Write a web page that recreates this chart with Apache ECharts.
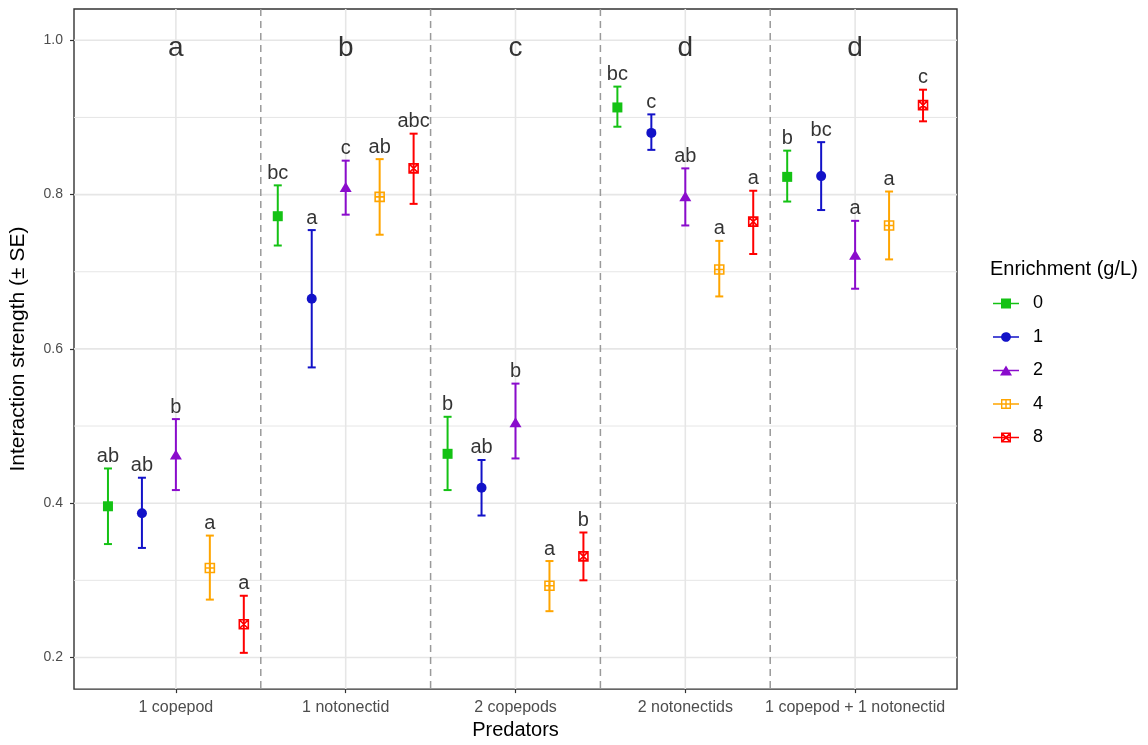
<!DOCTYPE html>
<html><head><meta charset="utf-8">
<script src="https://cdn.jsdelivr.net/npm/echarts@6/dist/echarts.min.js"></script>
<style>html,body{margin:0;padding:0;background:#fff}#c{width:1148px;height:745px}</style>
</head><body><div id="c"></div>
<script>
// ---------------- data ----------------
const categories = ['1 copepod', '1 notonectid', '2 copepods', '2 notonectids', '1 copepod + 1 notonectid'];
const levels = ['0', '1', '2', '4', '8'];
const groupLetters = ['a', 'b', 'c', 'd', 'd'];
const yMajorTicks = [0.2, 0.4, 0.6, 0.8, 1.0];
const yMinorTicks = [0.3, 0.5, 0.7, 0.9];

const mean0 = [0.396, 0.772, 0.464, 0.913, 0.823];
const upper0 = [0.445, 0.812, 0.512, 0.940, 0.857];
const lower0 = [0.347, 0.734, 0.417, 0.888, 0.791];
const letters0 = ['ab', 'bc', 'b', 'bc', 'b'];

const mean1 = [0.387, 0.665, 0.420, 0.880, 0.824];
const upper1 = [0.433, 0.754, 0.456, 0.904, 0.868];
const lower1 = [0.342, 0.576, 0.384, 0.858, 0.780];
const letters1 = ['ab', 'a', 'ab', 'c', 'bc'];

const mean2 = [0.463, 0.810, 0.505, 0.798, 0.722];
const upper2 = [0.509, 0.844, 0.555, 0.834, 0.766];
const lower2 = [0.417, 0.774, 0.458, 0.760, 0.678];
const letters2 = ['b', 'c', 'b', 'ab', 'a'];

const mean4 = [0.316, 0.797, 0.293, 0.703, 0.760];
const upper4 = [0.358, 0.846, 0.325, 0.740, 0.804];
const lower4 = [0.275, 0.748, 0.260, 0.668, 0.716];
const letters4 = ['a', 'ab', 'a', 'a', 'a'];

const mean8 = [0.243, 0.834, 0.331, 0.765, 0.916];
const upper8 = [0.280, 0.879, 0.362, 0.805, 0.936];
const lower8 = [0.206, 0.788, 0.300, 0.723, 0.895];
const letters8 = ['a', 'abc', 'b', 'a', 'c'];

const means = [mean0, mean1, mean2, mean4, mean8];
const uppers = [upper0, upper1, upper2, upper4, upper8];
const lowers = [lower0, lower1, lower2, lower4, lower8];
const letterSets = [letters0, letters1, letters2, letters4, letters8];

// ---------------- styling ----------------
const colors = ['#14c214', '#1212c8', '#8a0ccc', '#ffa500', '#ff0000'];
const FONT = "'Liberation Sans', Arial, sans-serif";
const xMin = 0.4, xMax = 5.6, yMin = 0.159, yMax = 1.0406;
const dodge = 0.2;
const groupLetterY = 0.99;

const symbols = [
  'rect',
  'circle',
  'triangle',
  'path://M0,0H10V10H0Z M5,0V10 M0,5H10',
  'path://M0,0H10V10H0Z M0,0L10,10 M10,0L0,10'
];
const symbolSizes = [10, 10, [12, 10], 9, 9];

const legendIcons = [
  'path://M0,4.2H8V0H18V4.2H26V5.8H18V10H8V5.8H0Z',
  'path://M0,4.2H8.1A5,5 0 0 1 17.9,4.2H26V5.8H17.9A5,5 0 0 1 8.1,5.8H0Z',
  'path://M0,4.2H10.48L13,0L15.52,4.2H26V5.8H16.48L19,10H7L9.52,5.8H0Z',
  'path://M0,4.3H26V5.7H0Z M8,0H18V1.4H8Z M8,8.6H18V10H8Z M8,0H9.4V10H8Z M16.6,0H18V10H16.6Z M12.3,0H13.7V10H12.3Z',
  'path://M0,4.3H26V5.7H0Z M8,0H18V1.4H8Z M8,8.6H18V10H8Z M8,0H9.4V10H8Z M16.6,0H18V10H16.6Z M8,0L9.2,0L18,8.8L18,10L16.8,10L8,1.2Z M18,0L18,1.2L9.2,10L8,10L8,8.8L16.8,0Z'
];

function xPos(i, j) { return (i + 1) + (j - 2) * dodge; }

const series = [];

function hLineSeries(vals, width, z) {
  return {
    type: 'custom', silent: true, z: z,
    data: vals.map(v => [v]),
    encode: { y: 0 },
    renderItem: function (params, api) {
      const cs = params.coordSys;
      const y = api.coord([xMin, api.value(0)])[1];
      return { type: 'line', shape: { x1: cs.x, y1: y, x2: cs.x + cs.width, y2: y },
        style: { stroke: '#e6e6e6', lineWidth: width } };
    }
  };
}
function vLineSeries(vals, style, z) {
  return {
    type: 'custom', silent: true, z: z,
    data: vals.map(v => [v]),
    encode: { x: 0 },
    renderItem: function (params, api) {
      const cs = params.coordSys;
      const x = api.coord([api.value(0), yMin])[0];
      return { type: 'line', shape: { x1: x, y1: cs.y, x2: x, y2: cs.y + cs.height }, style: style };
    }
  };
}
series.push(hLineSeries(yMinorTicks, 1, 1));
series.push(hLineSeries(yMajorTicks, 1.6, 1));
series.push(vLineSeries(categories.map((c, i) => i + 1), { stroke: '#e6e6e6', lineWidth: 1.6 }, 1));
series.push(vLineSeries(categories.slice(1).map((c, i) => i + 1.5), { stroke: '#9a9a9a', lineWidth: 1.5, lineDash: [7, 5] }, 2));

levels.forEach(function (lvl, j) {
  const c = colors[j];
  series.push({
    type: 'custom', name: 'eb' + lvl, z: 3, silent: true,
    data: categories.map((cat, i) => [xPos(i, j), lowers[j][i], uppers[j][i]]),
    encode: { x: 0, y: [1, 2] },
    renderItem: function (params, api) {
      const x = api.value(0);
      const lo = api.coord([x, api.value(1)]);
      const hi = api.coord([x, api.value(2)]);
      const hw = 4;
      const st = { stroke: c, lineWidth: 2 };
      return { type: 'group', children: [
        { type: 'line', shape: { x1: lo[0], y1: lo[1], x2: hi[0], y2: hi[1] }, style: st },
        { type: 'line', shape: { x1: hi[0] - hw, y1: hi[1], x2: hi[0] + hw, y2: hi[1] }, style: st },
        { type: 'line', shape: { x1: lo[0] - hw, y1: lo[1], x2: lo[0] + hw, y2: lo[1] }, style: st }
      ] };
    }
  });
  const hollow = j >= 3;
  series.push({
    type: 'scatter', name: lvl, z: 4, silent: true,
    symbol: symbols[j], symbolSize: symbolSizes[j],
    itemStyle: hollow ? { color: 'rgba(255,255,255,0)', borderColor: c, borderWidth: 1.6, opacity: 1 }
                      : { color: c, opacity: 1 },
    data: categories.map((cat, i) => [xPos(i, j), means[j][i]])
  });
  series.push({
    type: 'scatter', name: 'lab' + lvl, z: 5, silent: true,
    symbolSize: 0,
    data: categories.map((cat, i) => [xPos(i, j), uppers[j][i], letterSets[j][i]]),
    label: { show: true, position: 'top', distance: 2, formatter: p => p.value[2],
      fontFamily: FONT, fontSize: 20, color: '#000' }
  });
});

series.push({
  type: 'scatter', name: 'groups', z: 5, silent: true, symbolSize: 0,
  data: categories.map((cat, i) => [i + 1, groupLetterY, groupLetters[i]]),
  label: { show: true, position: 'inside', formatter: p => p.value[2],
    fontFamily: FONT, fontSize: 28, color: '#000' }
});

const chart = echarts.init(document.getElementById('c'));
chart.setOption({
  animation: false,
  backgroundColor: '#fff',
  textStyle: { fontFamily: FONT },
  title: {
    text: 'Enrichment (g/L)', left: 985, top: 254,
    textStyle: { fontFamily: FONT, fontSize: 20, fontWeight: 'normal', color: '#000' }
  },
  legend: {
    orient: 'vertical', left: 988, top: 289,
    itemWidth: 26, itemHeight: 10, itemGap: 14.5,
    textStyle: { fontFamily: FONT, fontSize: 18, color: '#000', padding: [0, 0, 0, 9], lineHeight: 19 },
    data: levels.map((l, j) => ({ name: l, icon: legendIcons[j], itemStyle: { color: colors[j], borderWidth: 0 } })),
    selectedMode: false
  },
  grid: {
    left: 70, top: 9, width: 887, height: 688,
    show: true, borderColor: '#333', borderWidth: 1.4, backgroundColor: '#fff'
  },
  xAxis: {
    type: 'value', min: xMin, max: xMax,
    name: 'Predators', nameLocation: 'middle', nameGap: 27,
    nameTextStyle: { fontFamily: FONT, fontSize: 20, color: '#000' },
    axisLine: { show: false },
    splitLine: { show: false },
    axisTick: { show: true, length: 4, lineStyle: { color: '#333', width: 1.2 }, customValues: categories.map((c, i) => i + 1) },
    axisLabel: { show: true, margin: 10, color: '#4d4d4d', fontFamily: FONT, fontSize: 16,
      customValues: categories.map((c, i) => i + 1),
      formatter: v => categories[Math.round(v) - 1] || '' }
  },
  yAxis: {
    type: 'value', min: yMin, max: yMax,
    name: 'Interaction strength (± SE)', nameLocation: 'middle', nameGap: 45,
    nameTextStyle: { fontFamily: FONT, fontSize: 21, color: '#000' },
    axisLine: { show: false },
    splitLine: { show: false },
    axisTick: { show: true, length: 4, lineStyle: { color: '#333', width: 1.2 }, customValues: yMajorTicks },
    axisLabel: { show: true, margin: 11, color: '#4d4d4d', fontFamily: FONT, fontSize: 14,
      customValues: yMajorTicks, formatter: v => v.toFixed(1) }
  },
  series: series
});
</script></body></html>
